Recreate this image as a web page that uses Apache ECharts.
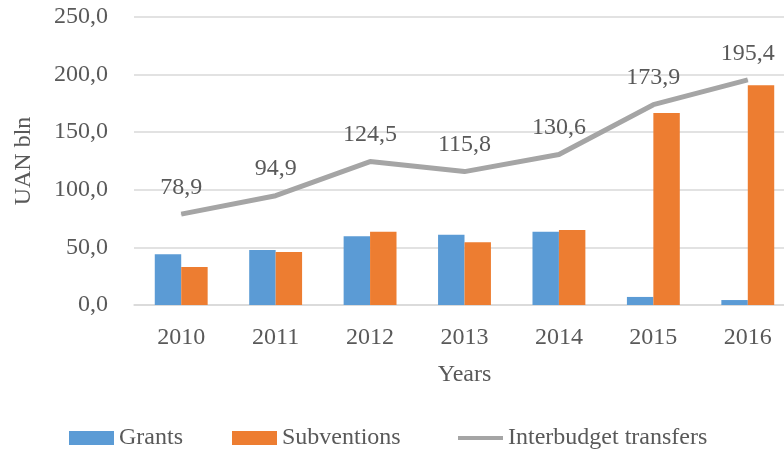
<!DOCTYPE html>
<html><head><meta charset="utf-8">
<script src="https://cdn.jsdelivr.net/npm/echarts@6/dist/echarts.min.js"></script>
<style>html,body{margin:0;padding:0;background:#fff}#c{width:784px;height:450px}</style>
</head><body><div id="c"></div>
<script>
const years = ['2010','2011','2012','2013','2014','2015','2016'];
const grants = [44.1, 47.8, 59.7, 60.9, 63.5, 7.0, 4.3];
const subventions = [33.0, 46.1, 63.5, 54.5, 65.2, 166.7, 190.7];
const transfers = [78.9, 94.9, 124.5, 115.8, 130.6, 173.9, 195.4];
const yTicks = [0, 50, 100, 150, 200, 250];

const font = 'Liberation Serif';
const txt = '#595959';
const fs = 24;
const fmt = v => v.toFixed(1).replace('.', ',');
const legendBase = {
  top: 421, itemWidth: 45, itemHeight: 14,
  textStyle: {fontFamily: font, fontSize: fs, color: txt}
};
const chart = echarts.init(document.getElementById('c'));
chart.setOption({
  animation: false,
  textStyle: {fontFamily: font, color: txt},
  grid: {left: 134, right: -11, top: 17, bottom: 145, containLabel: false, outerBoundsMode: 'none'},
  legend: [
    Object.assign({}, legendBase, {left: 64, data: [{name: 'Grants', icon: 'rect'}]}),
    Object.assign({}, legendBase, {left: 227, data: [{name: 'Subventions', icon: 'rect'}]}),
    Object.assign({}, legendBase, {left: 453, data: [{name: 'Interbudget transfers', icon: 'path://M0,0 M45,14 M0,5h45v4h-45z'}]})
  ],
  xAxis: {
    type: 'category', data: years,
    name: 'Years', nameLocation: 'middle', nameGap: 58,
    nameTextStyle: {fontFamily: font, fontSize: fs, color: txt},
    axisTick: {show: false},
    axisLine: {lineStyle: {color: '#d9d9d9', width: 1.5}},
    axisLabel: {fontFamily: font, fontSize: fs, color: txt, margin: 21}
  },
  yAxis: {
    type: 'value', min: yTicks[0], max: yTicks[yTicks.length-1], interval: 50,
    name: 'UAN bln', nameLocation: 'middle', nameGap: 98, nameRotate: 90,
    nameTextStyle: {fontFamily: font, fontSize: fs, color: txt},
    axisLine: {show: false}, axisTick: {show: false},
    splitLine: {lineStyle: {color: '#d9d9d9', width: 1.5}},
    axisLabel: {fontFamily: font, fontSize: fs, color: txt, margin: 26, formatter: v => fmt(v)}
  },
  series: [
    {name: 'Grants', type: 'bar', data: grants, barGap: '0%', barCategoryGap: '44%',
     itemStyle: {color: '#5b9bd5'}},
    {name: 'Subventions', type: 'bar', data: subventions,
     itemStyle: {color: '#ed7d31'}},
    {name: 'Interbudget transfers', type: 'line', data: transfers,
     symbol: 'circle', symbolSize: 1, showSymbol: true,
     lineStyle: {color: '#a5a5a5', width: 5}, itemStyle: {color: '#a5a5a5'},
     label: {show: true, position: 'top', distance: 14, fontFamily: font, fontSize: fs, color: txt,
       formatter: p => fmt(p.value)}}
  ]
});
</script></body></html>
